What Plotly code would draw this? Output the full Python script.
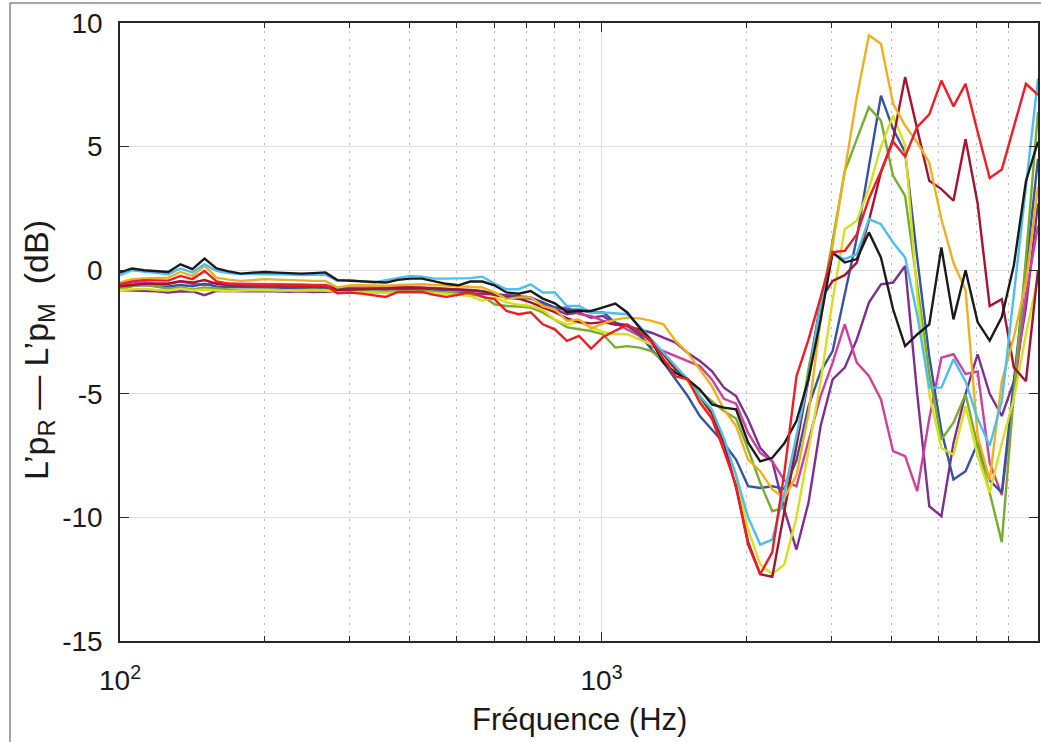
import plotly.graph_objects as go

# 1/12-octave band centre frequencies (Hz)
freq = [100.0, 105.9, 112.2, 118.9, 126.0, 133.5, 141.4, 149.8, 158.7, 168.2,
        178.2, 188.8, 200.0, 211.9, 224.5, 237.8, 252.0, 267.0, 282.8, 299.7,
        317.5, 336.4, 356.4, 377.6, 400.0, 423.8, 449.0, 475.7, 504.0, 534.0,
        565.7, 599.3, 635.0, 672.7, 712.7, 755.1, 800.0, 847.6, 898.0, 951.4,
        1008, 1068, 1131, 1199, 1270, 1345, 1425, 1510, 1600, 1695,
        1796, 1903, 2016, 2136, 2263, 2397, 2540, 2691, 2851, 3020,
        3200, 3390, 3592, 3805, 4032, 4271, 4525, 4794, 5080, 5382,
        5702, 6041, 6400, 6781, 7184, 7611, 8063]

# Level differences L'pR - L'pM (dB), one list per measurement
d_black = [-0.09, 0.07, 0.0, -0.03, -0.07, 0.24, 0.04, 0.47, 0.07, -0.05,
           -0.14, -0.1, -0.07, -0.1, -0.12, -0.14, -0.12, -0.09, -0.4, -0.42,
           -0.45, -0.47, -0.5, -0.39, -0.34, -0.34, -0.45, -0.55, -0.61, -0.46,
           -0.46, -0.61, -0.9, -0.95, -0.84, -1.15, -1.34, -1.69, -1.65, -1.65,
           -1.5, -1.35, -1.71, -2.32, -2.86, -3.74, -4.15, -4.42, -4.82, -5.43,
           -5.56, -5.63, -6.98, -7.73, -7.59, -7.0, -6.1, -4.4, -2.0, 0.72,
           0.31, 0.45, 1.53, 0.51, -1.58, -3.07, -2.6, -2.19, 0.92, -1.99,
           0.0, -2.1, -2.85, -1.9, 0.2, 3.6, 5.2]

d_cyan = [-0.2, 0.0, -0.05, -0.1, -0.16, 0.07, -0.09, 0.24, -0.03, -0.12,
          -0.16, -0.15, -0.15, -0.17, -0.18, -0.2, -0.2, -0.18, -0.43, -0.39,
          -0.45, -0.5, -0.4, -0.3, -0.23, -0.26, -0.34, -0.34, -0.33, -0.32,
          -0.26, -0.54, -0.77, -0.77, -0.57, -0.9, -0.9, -1.45, -1.45, -1.71,
          -1.71, -1.75, -1.78, -2.26, -2.8, -3.34, -3.9, -4.42, -5.09, -5.63,
          -6.8, -8.3, -10.0, -11.1, -10.9, -9.0, -6.7, -4.4, -1.3, 0.65,
          0.45, 0.65, 2.07, 1.86, 1.12, 0.51, -1.8, -4.75, -4.75, -3.6,
          -4.5, -6.0, -7.1, -5.3, -1.0, 3.5, 7.75]

d_red = [-0.57, -0.45, -0.4, -0.4, -0.42, -0.23, -0.36, -0.03, -0.45, -0.55,
         -0.58, -0.6, -0.6, -0.61, -0.61, -0.61, -0.61, -0.62, -0.93, -0.9,
         -0.95, -1.0, -1.08, -0.88, -0.88, -0.88, -1.0, -1.08, -1.0, -0.88,
         -1.08, -1.17, -1.65, -1.78, -1.7, -2.19, -2.39, -2.86, -2.66, -3.17,
         -2.7, -2.45, -2.2, -2.5, -2.86, -3.6, -4.3, -4.4, -5.35, -6.0,
         -7.3, -8.7, -11.1, -12.3, -11.4, -8.2, -4.3, -2.8, -1.1, 0.73,
         0.78, 1.45, 2.9, 4.0, 5.2, 4.6, 5.8, 6.3, 7.67, 6.63,
         7.54, 5.6, 3.73, 4.07, 5.85, 7.54, 7.09]

d_darkred = [-0.65, -0.6, -0.55, -0.55, -0.55, -0.45, -0.5, -0.4, -0.55, -0.6,
             -0.62, -0.62, -0.62, -0.63, -0.64, -0.65, -0.65, -0.65, -0.8, -0.78,
             -0.75, -0.75, -0.72, -0.7, -0.7, -0.72, -0.75, -0.75, -0.78, -0.8,
             -0.85, -1.0, -1.1, -1.15, -1.3, -1.5, -1.7, -1.95, -2.1, -2.15,
             -2.1, -2.2, -2.2, -2.5, -2.9, -3.4, -4.0, -4.4, -5.1, -5.8,
             -7.0, -8.8, -11.0, -12.3, -12.4, -9.8, -7.1, -4.4, -1.2, -0.43,
             -0.2, 0.31, 2.0, 3.96, 5.3, 7.81, 5.7, 3.62, 3.28, 2.81,
             5.3, 2.7, -1.45, -1.17, -3.93, -4.49, 0.0]

d_orange = [-0.5, -0.36, -0.33, -0.32, -0.3, -0.07, -0.23, 0.18, -0.3, -0.38,
            -0.43, -0.4, -0.36, -0.38, -0.4, -0.43, -0.43, -0.43, -0.7, -0.62,
            -0.6, -0.62, -0.63, -0.6, -0.58, -0.57, -0.6, -0.63, -0.66, -0.68,
            -0.7, -0.9, -1.17, -1.1, -1.1, -1.45, -1.58, -2.05, -1.99, -2.35,
            -2.15, -2.0, -1.92, -1.95, -2.05, -2.19, -2.86, -3.34, -4.01, -4.69,
            -5.63, -6.3, -7.66, -8.13, -8.87, -9.21, -8.3, -5.8, -2.0, 1.0,
            4.0, 7.0, 9.5, 9.16, 6.73, 5.85, 5.17, 4.36, 2.07, 0.3,
            -0.8, -6.7, -8.5, -4.5, -2.7, -0.5, 3.4]

d_yellow = [-0.8, -0.78, -0.75, -0.8, -0.82, -0.75, -0.82, -0.78, -0.82, -0.85,
            -0.82, -0.8, -0.8, -0.82, -0.82, -0.84, -0.83, -0.82, -0.88, -0.9,
            -0.9, -0.9, -0.92, -0.9, -0.88, -0.9, -0.92, -0.95, -1.0, -1.05,
            -1.24, -1.1, -1.3, -1.4, -1.45, -1.6, -2.0, -2.2, -2.1, -2.3,
            -2.5, -2.59, -2.59, -2.8, -3.0, -3.4, -4.0, -4.5, -5.2, -6.0,
            -7.0, -8.3, -10.5, -11.9, -12.3, -11.9, -10.0, -7.3, -4.5, -1.2,
            1.66, 2.0, 3.3, 5.0, 6.25, 5.04, -1.0, -5.0, -7.19, -7.46,
            -5.5, -7.5, -9.0, -7.0, -5.2, -2.6, -0.3]

d_green = [-0.77, -0.65, -0.57, -0.65, -0.75, -0.7, -0.78, -0.7, -0.75, -0.78,
           -0.8, -0.8, -0.78, -0.8, -0.82, -0.8, -0.78, -0.8, -0.85, -0.84,
           -0.86, -0.87, -0.88, -0.86, -0.85, -0.84, -0.87, -0.9, -0.95, -1.0,
           -1.04, -1.38, -1.45, -1.47, -1.51, -1.71, -1.99, -2.3, -2.39, -2.46,
           -2.6, -3.13, -3.07, -3.13, -3.27, -3.67, -3.94, -4.42, -4.89, -5.3,
           -5.7, -6.0, -7.25, -8.6, -9.75, -9.6, -7.0, -4.0, -1.5, 1.2,
           4.0, 5.3, 6.59, 6.05, 3.82, 3.01, -0.5, -4.2, -6.85, -6.17,
           -5.02, -7.1, -9.0, -11.0, -5.0, 0.5, 6.4]

d_blue = [-0.66, -0.62, -0.6, -0.65, -0.66, -0.6, -0.65, -0.55, -0.66, -0.68,
          -0.68, -0.7, -0.7, -0.7, -0.72, -0.7, -0.7, -0.72, -0.75, -0.75,
          -0.76, -0.78, -0.78, -0.76, -0.75, -0.76, -0.78, -0.8, -0.8, -0.82,
          -0.85, -0.95, -1.05, -1.1, -1.15, -1.3, -1.5, -1.6, -1.6, -1.7,
          -1.7, -2.12, -2.26, -2.59, -3.2, -3.74, -4.42, -5.09, -5.9, -6.44,
          -7.0, -7.66, -8.74, -8.81, -8.74, -8.85, -7.7, -5.5, -4.1, -3.27,
          -1.0, 1.3, 4.2, 7.06, 5.71, 4.77, 0.5, -3.5, -6.5, -8.47,
          -8.13, -7.0, -8.5, -9.0, -4.5, 0.0, 4.5]

d_purple = [-0.8, -0.82, -0.82, -0.85, -0.9, -0.85, -0.86, -1.01, -0.84, -0.85,
            -0.84, -0.85, -0.84, -0.86, -0.87, -0.85, -0.88, -0.86, -0.88, -0.88,
            -0.88, -0.9, -0.9, -0.88, -0.86, -0.88, -0.9, -0.92, -0.94, -0.95,
            -0.96, -0.97, -1.0, -1.05, -1.1, -1.3, -1.58, -1.78, -1.71, -1.92,
            -1.85, -2.19, -2.26, -2.39, -2.53, -2.73, -2.93, -3.34, -3.67, -4.08,
            -4.75, -5.09, -6.04, -7.19, -7.73, -9.68, -11.3, -9.4, -6.3, -4.42,
            -3.94, -2.8, -1.31, -0.57, -0.5, 0.17, -5.0, -9.55, -9.95, -7.0,
            -5.0, -3.4, -5.0, -5.9, -4.5, -1.5, 2.7]

d_magenta = [-0.6, -0.5, -0.5, -0.55, -0.55, -0.45, -0.55, -0.6, -0.5, -0.55,
             -0.55, -0.55, -0.56, -0.57, -0.58, -0.58, -0.6, -0.6, -0.7, -0.7,
             -0.7, -0.72, -0.7, -0.68, -0.68, -0.7, -0.72, -0.75, -0.78, -0.8,
             -0.85, -1.0, -1.1, -1.17, -1.1, -1.38, -1.58, -1.5, -1.78, -1.85,
             -2.05, -2.12, -2.4, -2.66, -3.07, -3.27, -3.47, -3.7, -3.88, -4.42,
             -5.2, -5.4, -6.58, -7.39, -7.73, -8.5, -8.74, -6.9, -5.09, -3.74,
             -2.19, -3.74, -4.28, -5.23, -7.32, -7.52, -8.94, -6.0, -3.54, -3.4,
             -4.2, -4.1, -7.8, -9.1, -5.0, -1.0, 1.8]

# drawing order (last on top) and line colours
series = [
    (d_purple, "#7e2f8e"),
    (d_magenta, "#cf3f9c"),
    (d_blue, "#3553a5"),
    (d_green, "#77ac30"),
    (d_yellow, "#d8df1f"),
    (d_darkred, "#a2142f"),
    (d_orange, "#edb120"),
    (d_cyan, "#4dbeee"),
    (d_black, "#1a1a1a"),
    (d_red, "#ee1d25"),
]

y_ticks = [-15, -10, -5, 0, 5, 10]
y_ticktext = ["-15", "-10", "-5", "0", "5", "10"]
x_major = [100, 1000]
x_major_text = ["10<sup>2</sup>", "10<sup>3</sup>"]
x_minor = [200, 300, 400, 500, 600, 700, 800, 900,
           2000, 3000, 4000, 5000, 6000, 7000]

FONT = "Liberation Sans, Arial, Helvetica, sans-serif"
AXC = "#262626"

fig = go.Figure()
for vals, col in series:
    fig.add_trace(go.Scatter(x=freq, y=vals, mode="lines",
                             line=dict(color=col, width=2.4),
                             showlegend=False, hoverinfo="skip"))

fig.update_xaxes(
    type="log", range=[2, 3.9065],
    tickmode="array", tickvals=x_major, ticktext=x_major_text,
    ticks="inside", ticklen=9, tickwidth=1.3, tickcolor=AXC,
    showline=True, linecolor=AXC, linewidth=1.5, mirror="ticks",
    showgrid=True, gridcolor="#dedede", gridwidth=1.2,
    zeroline=False, ticklabelstandoff=14,
    tickfont=dict(family=FONT, size=28, color="#1a1a1a"),
    minor=dict(tickmode="array", tickvals=x_minor, ticks="inside",
               ticklen=5, tickwidth=1.2, tickcolor=AXC,
               showgrid=True, gridcolor="#b5b5b5", gridwidth=1.3,
               griddash="2px,6px"),
)
fig.update_yaxes(
    range=[-15, 10],
    tickmode="array", tickvals=y_ticks, ticktext=y_ticktext,
    ticks="inside", ticklen=9, tickwidth=1.3, tickcolor=AXC,
    showline=True, linecolor=AXC, linewidth=1.5, mirror="ticks",
    showgrid=True, gridcolor="#dedede", gridwidth=1.2,
    zeroline=False, ticklabelstandoff=10,
    tickfont=dict(family=FONT, size=28, color="#1a1a1a"),
)

# paper coordinates of the figure border (plot area is 918 x 618 px)
W, H = 918.0, 618.0
fig.add_shape(type="line", xref="paper", yref="paper",
              x0=(10 - 120) / W, x1=(10 - 120) / W,
              y0=(641 - 742) / H, y1=(641 - 3) / H,
              line=dict(color="#4d4d4d", width=1))
fig.add_shape(type="line", xref="paper", yref="paper",
              x0=(10 - 120) / W, x1=(1041 - 120) / W,
              y0=(641 - 3) / H, y1=(641 - 3) / H,
              line=dict(color="#4d4d4d", width=1))

fig.add_annotation(xref="paper", yref="paper", x=0.5, y=(641 - 719) / H,
                   text="Fréquence (Hz)", showarrow=False,
                   xanchor="center", yanchor="middle",
                   font=dict(family=FONT, size=31, color="#1a1a1a"))
fig.add_annotation(xref="paper", yref="paper", x=(38 - 120) / W,
                   y=(641 - 350) / H,
                   text="L’p<sub>R</sub> — L’p<sub>M</sub>  (dB)",
                   textangle=-90, showarrow=False,
                   xanchor="center", yanchor="middle",
                   font=dict(family=FONT, size=34, color="#1a1a1a"))

fig.update_layout(
    width=1041, height=742,
    margin=dict(l=120, r=3, t=23, b=101, autoexpand=False),
    paper_bgcolor="white", plot_bgcolor="white",
    font=dict(family=FONT, color="#1a1a1a"),
)

fig.write_html("out.html")
